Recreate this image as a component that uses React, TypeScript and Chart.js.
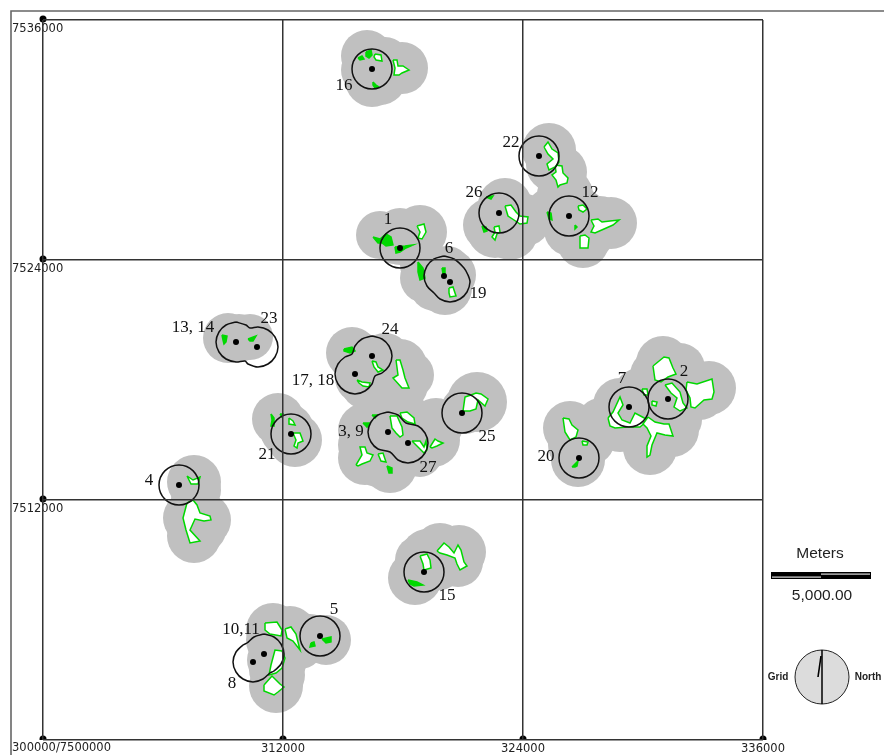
import React, { useEffect, useRef } from "react";
import { Chart, registerables } from "chart.js";

Chart.register(...registerables);

const eastTicks = [300000, 312000, 324000, 336000];
const northTicks = [7500000, 7512000, 7524000, 7536000];
const metresPerPixel = 50;

// Activity centres (black dots)
const centreEast = [316450, 324800, 322800, 326300, 317850, 320050, 320350, 309650, 310700, 316450, 315600, 312400, 317250, 318250, 320950, 329300, 331250, 326800, 306800, 311050, 310500, 313850, 319050];
const centreNorth = [7533550, 7529200, 7526350, 7526200, 7524600, 7523200, 7522900, 7519900, 7519650, 7519200, 7518300, 7515300, 7515400, 7514850, 7516350, 7516650, 7517050, 7514100, 7512750, 7504300, 7503900, 7505200, 7508400];

// Single 1000 m rings
const ringEast = [316450, 324800, 322800, 326300, 317850, 312400, 320950, 329300, 331250, 326800, 306800, 313850, 319050];
const ringNorth = [7533550, 7529200, 7526350, 7526200, 7524600, 7515300, 7516350, 7516650, 7517050, 7514100, 7512750, 7505200, 7508400];

// Site labels
const siteLabels = ["16", "22", "26", "12", "1", "6", "19", "13, 14", "23", "24", "17, 18", "21", "3, 9", "27", "25", "7", "2", "20", "4", "10,11", "8", "5", "15"];
const labelEast = [315050, 323400, 321550, 327350, 317250, 320300, 321750, 307500, 311300, 317350, 313500, 311200, 315400, 319250, 322200, 328950, 332050, 325150, 305300, 309900, 309450, 314550, 320200];
const labelNorth = [7532700, 7529850, 7527350, 7527350, 7526000, 7524550, 7522300, 7520600, 7521050, 7520500, 7517950, 7514250, 7515400, 7513600, 7515150, 7518050, 7518400, 7514150, 7512950, 7505500, 7502800, 7506500, 7507200];

// Grey buffer discs
const bufferEast = [316200, 317950, 316450, 325300, 325850, 326100, 325350, 323100, 322350, 323350, 324100, 328400, 327000, 326850, 316850, 318850, 317850, 320100, 319100, 320200, 311750, 312600, 309250, 310350, 315450, 317850, 317950, 316350, 316100, 316100, 317100, 318100, 317350, 319650, 319100, 316600, 318350, 321700, 331000, 333300, 332350, 330350, 328850, 330350, 331450, 330850, 328850, 326350, 326750, 327350, 327850, 307550, 307350, 308050, 307550, 311500, 312350, 314150, 312850, 311650, 311850, 311450, 320800, 319850, 318600, 318850, 320200,
  317250, 316450, 317850, 319100, 312200, 309800, 316500, 315850, 317600, 316250, 316750, 319500, 317850, 329850, 329850, 331850, 332850, 330600, 331850, 326600, 307500, 313350, 311650, 319350, 322850, 327600, 326350, 325500,
  317100, 316850, 316100, 322600, 327850, 327350, 317600, 319600, 320350, 317100, 318350, 317100, 316100, 316100, 318850, 321100, 330350, 331100, 331850, 308050, 307650, 311600, 311750, 319200, 320750, 319850];
const bufferNorth = [7534200, 7533600, 7533000, 7529500, 7528400, 7527250, 7526400, 7526750, 7525750, 7525400, 7526000, 7525850, 7524900, 7526250, 7525250, 7525400, 7525000, 7522600, 7523750, 7523500, 7516050, 7515000, 7520100, 7520150, 7519350, 7518700, 7517750, 7518100, 7517750, 7514100, 7515750, 7516000, 7513700, 7515750, 7515000, 7515500, 7514750, 7516900, 7518850, 7517600, 7517750, 7517500, 7516750, 7514600, 7515500, 7516000, 7515750, 7515600, 7514000, 7515000, 7516000, 7512900, 7511100, 7511000, 7510200, 7505500, 7505400, 7505000, 7504750, 7502700, 7504000, 7504000, 7509400, 7509500, 7508100, 7509000, 7508750,
  7533500, 7533750, 7525400, 7523100, 7515500, 7520100, 7519150, 7518100, 7516750, 7515400, 7514000, 7515000, 7514250, 7515500, 7517250, 7517000, 7517250, 7518250, 7518600, 7514750, 7512000, 7505100, 7503500, 7508750, 7525750, 7525750, 7525500, 7528750,
  7533900, 7533100, 7533500, 7525500, 7525900, 7525250, 7525100, 7522750, 7523250, 7519000, 7518250, 7517250, 7515500, 7514750, 7514250, 7516500, 7515500, 7518500, 7516000, 7510500, 7512500, 7505000, 7503250, 7509250, 7508900, 7508500];
const bufferRadius = [1300, 1300, 1350, 1350, 1350, 1400, 1200, 1350, 1350, 1400, 1300, 1300, 1300, 1350, 1200, 1350, 1250, 1350, 1250, 1200, 1300, 1350, 1250, 1150, 1300, 1350, 1300, 1300, 1200, 1350, 1350, 1350, 1350, 1350, 1350, 1350, 1250, 1500, 1350, 1350, 1350, 1350, 1350, 1350, 1350, 1350, 1350, 1350, 1350, 1250, 1100, 1350, 1350, 1350, 1350, 1350, 1300, 1250, 1200, 1350, 1350, 1250, 1350, 1350, 1350, 1250, 1100,
  1250, 1350, 1200, 1250, 1350, 1200, 1100, 1250, 1350, 1350, 1350, 1350, 1250, 1350, 1350, 1350, 1250, 1250, 1250, 1350, 1100, 1200, 1350, 1350, 1500, 1250, 1300, 1350,
  1250, 1350, 1200, 1400, 1300, 1200, 1300, 1300, 1300, 1350, 1200, 1500, 1350, 1350, 1100, 1200, 1350, 1350, 1100, 1100, 1250, 1450, 1350, 1300, 1250, 1000];

// Forest patches drawn with a white interior: east, north, east, north...
const openPatches = [
  [316600, 7534300, 316900, 7534250, 316950, 7533950, 316650, 7534000, 316550, 7534150],
  [317500, 7534000, 317700, 7534000, 317750, 7533700, 318000, 7533700, 318300, 7533500, 317950, 7533350, 317800, 7533250, 317550, 7533250, 317600, 7533600],
  [325050, 7529650, 325250, 7529900, 325450, 7529550, 325750, 7529350, 325800, 7528900, 325600, 7528650, 325300, 7528500, 325200, 7528800, 325500, 7529050, 325250, 7529300],
  [325600, 7528750, 325950, 7528700, 326000, 7528350, 326250, 7528100, 326200, 7527850, 325850, 7527750, 325750, 7527650, 325650, 7528000, 325450, 7528250, 325650, 7528400],
  [323100, 7526700, 323400, 7526750, 323650, 7526400, 323850, 7526200, 324250, 7526150, 324200, 7525850, 323850, 7525800, 323550, 7526000, 323250, 7526200],
  [322550, 7525650, 322800, 7525700, 322850, 7525400, 322700, 7525300, 322600, 7525000, 322450, 7525150, 322600, 7525400],
  [326750, 7526700, 327000, 7526750, 327200, 7526550, 327000, 7526400, 326800, 7526500],
  [327400, 7526000, 327750, 7526050, 327950, 7525900, 328350, 7525950, 328800, 7526000, 328500, 7525750, 328050, 7525550, 327600, 7525350, 327400, 7525400, 327550, 7525700],
  [326850, 7525200, 327100, 7525250, 327300, 7525100, 327250, 7524600, 326850, 7524600],
  [318700, 7525700, 319050, 7525800, 319150, 7525400, 318950, 7525050, 318750, 7525100, 318850, 7525400],
  [320300, 7522600, 320500, 7522650, 320650, 7522200, 320350, 7522150, 320300, 7522350],
  [316450, 7518950, 316650, 7518900, 316750, 7518650, 317000, 7518500, 316750, 7518400, 316550, 7518650],
  [315700, 7518000, 315950, 7517900, 316350, 7517850, 316300, 7517650, 316000, 7517700, 315800, 7517850],
  [317650, 7519000, 317850, 7519000, 318000, 7518500, 318100, 7518100, 318300, 7517600, 317950, 7517600, 317500, 7518100, 317750, 7518250],
  [312300, 7516100, 312500, 7515950, 312600, 7515750, 312300, 7515800],
  [312500, 7515350, 312850, 7515350, 313000, 7514950, 312750, 7514850, 312700, 7514600, 312550, 7514700, 312650, 7515000],
  [317350, 7516200, 317700, 7516200, 317950, 7515650, 318000, 7515250, 317850, 7515150, 317650, 7515350, 317450, 7515600],
  [317850, 7516350, 318200, 7516400, 318550, 7516100, 318600, 7515800, 318250, 7515900, 317950, 7516100],
  [318450, 7514950, 318850, 7514950, 319050, 7514650, 319150, 7514950, 319200, 7514500, 319050, 7514350, 318850, 7514550],
  [319350, 7514650, 319600, 7515050, 319750, 7514950, 320000, 7514850, 319700, 7514700, 319450, 7514600],
  [315650, 7513750, 315950, 7514250, 315850, 7514650, 316100, 7514650, 316200, 7514350, 316500, 7514250, 316350, 7513950, 315950, 7513800, 315750, 7513700],
  [316750, 7514300, 317000, 7514350, 317150, 7513900, 316900, 7513950],
  [321000, 7516450, 321100, 7517150, 321400, 7517250, 321650, 7517350, 321900, 7517300, 322250, 7517050, 322100, 7516700, 321750, 7517000, 321650, 7516550, 321350, 7516450],
  [330500, 7518700, 331050, 7519150, 331300, 7519100, 331500, 7518600, 331650, 7518300, 331250, 7518150, 330900, 7517900, 330600, 7518000],
  [332200, 7517900, 332700, 7517800, 333450, 7518050, 333550, 7517400, 333450, 7517050, 333050, 7517000, 332600, 7516600, 332400, 7516650, 332350, 7517100, 332150, 7517500],
  [331100, 7517750, 331450, 7517850, 331850, 7517400, 332000, 7516850, 332200, 7516600, 331850, 7516450, 331550, 7516650, 331700, 7517100, 331400, 7517350],
  [330250, 7516150, 330600, 7515900, 331050, 7515800, 331300, 7515800, 331500, 7515200, 331100, 7515250, 330700, 7515350, 330450, 7514750, 330350, 7514250, 330200, 7514150, 330200, 7514700, 330400, 7515200, 330200, 7515600, 330000, 7515800],
  [328250, 7516100, 328500, 7516400, 328850, 7517150, 329000, 7516750, 328750, 7516350, 328950, 7516000, 329350, 7515850, 329600, 7516350, 330250, 7516000, 329850, 7515650, 329250, 7515650, 328600, 7515600, 328350, 7515700],
  [329950, 7517550, 330200, 7517550, 330250, 7517250, 330050, 7517250],
  [330450, 7516950, 330700, 7516900, 330650, 7516700, 330450, 7516750],
  [326000, 7516100, 326300, 7516050, 326450, 7515750, 326750, 7515500, 326650, 7515150, 326350, 7515000, 326100, 7515400],
  [326950, 7514950, 327250, 7514900, 327200, 7514750, 327000, 7514750],
  [307200, 7513200, 307500, 7513000, 307850, 7513150, 307750, 7512800, 307400, 7512800],
  [307200, 7511850, 307500, 7512000, 307700, 7511750, 307850, 7511350, 308350, 7511200, 308400, 7511000, 308050, 7510950, 307600, 7511050, 307350, 7510500, 307850, 7509950, 307350, 7509850, 307150, 7510500, 307000, 7511100],
  [311100, 7505850, 311700, 7505900, 311950, 7505500, 311900, 7505200, 311350, 7505300, 311100, 7505500],
  [311400, 7503750, 311600, 7504500, 311950, 7504450, 312100, 7504100, 311950, 7503600, 311650, 7503350, 311300, 7503250],
  [311050, 7502750, 311450, 7503200, 311850, 7502800, 312050, 7502650, 311750, 7502400, 311550, 7502250, 311050, 7502450],
  [312100, 7505550, 312400, 7505650, 312650, 7505300, 312850, 7504500, 312500, 7504950, 312200, 7505100],
  [319700, 7509450, 320050, 7509850, 320300, 7509650, 320550, 7509350, 320750, 7509750, 320900, 7509500, 321050, 7508900, 321200, 7508700, 320850, 7508500, 320700, 7508800, 320600, 7509100, 320200, 7509250, 319850, 7509350],
  [318850, 7509200, 319200, 7509300, 319350, 7509000, 319400, 7508600, 319050, 7508500, 319000, 7508800],
];

// Small forest patches that read as solid green
const solidPatches = [
  [316150, 7534400, 316400, 7534500, 316450, 7534250, 316300, 7534100, 316150, 7534200],
  [315750, 7534100, 315950, 7534200, 316050, 7534050, 315850, 7534000],
  [316500, 7532900, 316650, 7532750, 316800, 7532650, 316600, 7532600, 316500, 7532750],
  [321950, 7525700, 322150, 7525650, 322200, 7525450, 322050, 7525400],
  [322150, 7527150, 322500, 7527200, 322400, 7527050],
  [325200, 7526400, 325400, 7526350, 325450, 7526000, 325300, 7526050],
  [326600, 7525750, 326700, 7525650, 326600, 7525550],
  [316500, 7525150, 316850, 7525050, 317150, 7525300, 317400, 7525150, 317500, 7524750, 317150, 7524700, 316950, 7524850, 316750, 7524850],
  [317600, 7524650, 318100, 7524700, 318500, 7524750, 318150, 7524600, 317850, 7524400, 317650, 7524350],
  [318750, 7523900, 319000, 7523600, 319100, 7523100, 318850, 7523000, 318750, 7523400],
  [319950, 7523600, 320100, 7523600, 320100, 7523300, 320000, 7523300],
  [308950, 7520250, 309200, 7520200, 309150, 7519900, 309050, 7519800, 309000, 7520000],
  [310250, 7520050, 310650, 7520200, 310500, 7519950, 310350, 7519950],
  [315050, 7519550, 315450, 7519650, 315600, 7519450, 315350, 7519350, 315050, 7519450],
  [311400, 7516300, 311550, 7516100, 311550, 7515700, 311400, 7515700, 311450, 7516000],
  [311850, 7516300, 312000, 7516300, 311950, 7516150],
  [316000, 7515850, 316350, 7515850, 316200, 7515650],
  [316450, 7516250, 316700, 7516250, 316600, 7516100],
  [317200, 7513700, 317450, 7513600, 317450, 7513350, 317300, 7513350],
  [326450, 7513650, 326750, 7513950, 326700, 7513700, 326600, 7513650],
  [313400, 7504850, 313550, 7504900, 313600, 7504700, 313350, 7504650],
  [313950, 7505050, 314400, 7505150, 314400, 7504900, 314150, 7504850],
  [318250, 7508000, 318700, 7507900, 319000, 7507750, 318550, 7507700, 318350, 7507800],
];

// Dissolved outlines where two rings overlap
const mergedRings = [
  [309650, 7520900, 310150, 7520750, 310350, 7520600, 310750, 7520650, 311250, 7520500, 311600, 7520150, 311750, 7519650, 311600, 7519150, 311250, 7518800, 310750, 7518650, 310250, 7518800, 310100, 7518950, 309650, 7518900, 309150, 7519050, 308800, 7519400, 308650, 7519900, 308800, 7520400, 309150, 7520750],
  [316450, 7520200, 316950, 7520050, 317300, 7519700, 317450, 7519200, 317300, 7518700, 316950, 7518350, 316600, 7518200, 316450, 7517800, 316100, 7517450, 315600, 7517300, 315100, 7517450, 314750, 7517800, 314600, 7518300, 314750, 7518800, 315100, 7519150, 315450, 7519300, 315600, 7519700, 315950, 7520050],
  [317250, 7516400, 317750, 7516250, 318150, 7515850, 318750, 7515700, 319100, 7515350, 319250, 7514850, 319100, 7514350, 318750, 7514000, 318250, 7513850, 317750, 7514000, 317350, 7514400, 316750, 7514550, 316400, 7514900, 316250, 7515400, 316400, 7515900, 316750, 7516250],
  [320050, 7524200, 320550, 7524050, 321050, 7523600, 321250, 7523250, 321350, 7522900, 321200, 7522400, 320850, 7522050, 320350, 7521900, 319850, 7522050, 319550, 7522350, 319200, 7522700, 319050, 7523200, 319200, 7523700, 319550, 7524050],
  [311050, 7505300, 311550, 7505150, 311900, 7504800, 312050, 7504300, 311900, 7503800, 311550, 7503450, 311350, 7503350, 311000, 7503050, 310500, 7502900, 310000, 7503050, 309650, 7503400, 309500, 7503900, 309650, 7504400, 310000, 7504750, 310200, 7504850, 310550, 7505150],
];

// Neatline
const frameEast = [342050, 298400, 298400];
const frameNorth = [7536450, 7536450, 7499250];

// Graticule knobs
const knobEast = [300000, 300000, 300000];
const knobNorth = [7536050, 7524050, 7512050];
const footKnobEast = [300000, 312000, 324000, 336000];
const footKnobNorth = [7500050, 7500050, 7500050, 7500050];

// Map furniture
const scaleBarEast = [336400, 338900, 341400];
const scaleBarNorth = 7508225;
const scaleTitle = "Meters";
const scaleValue = "5,000.00";
const compassEast = 338950;
const compassNorth = 7503150;
const compassRadius = 1350;

const toPoints = (flat: number[]) => {
  const pts: { x: number; y: number }[] = [];
  for (let i = 0; i < flat.length; i += 2) pts.push({ x: flat[i], y: flat[i + 1] });
  pts.push({ x: flat[0], y: flat[1] });
  return pts;
};
const zip = (xs: number[], ys: number[]) => xs.map((x, i) => ({ x, y: ys[i] }));

const GREEN = "#00D800";
const INK = "#111111";

const furniture = {
  id: "mapFurniture",
  afterDatasetsDraw(chart: any) {
    const { ctx, scales } = chart;
    const X = (v: number) => scales.x.getPixelForValue(v);
    const Y = (v: number) => scales.y.getPixelForValue(v);
    const px = (m: number) => m / metresPerPixel;
    ctx.save();
    ctx.textAlign = "center";
    ctx.textBaseline = "middle";

    // site labels
    ctx.fillStyle = "#111";
    ctx.font = '17px "Liberation Serif"';
    siteLabels.forEach((t, i) => ctx.fillText(t, X(labelEast[i]), Y(labelNorth[i])));

    // first axis label
    ctx.font = '11.5px "DejaVu Sans"';
    ctx.fillStyle = "#222";
    ctx.textAlign = "left";
    ctx.textBaseline = "top";
    ctx.fillText(`${eastTicks[0]}/${northTicks[0]}`, X(298450), Y(7500000) + 2);

    // scale bar
    const yb = Y(scaleBarNorth);
    const [a, m, b] = scaleBarEast.map(X);
    ctx.fillStyle = "#000";
    ctx.fillRect(a, yb - 3.5, b - a, 7);
    ctx.fillStyle = "#ddd";
    ctx.fillRect(a + 1, yb + 1, m - a - 1, 1.2);
    ctx.fillRect(m, yb - 2, b - m - 1, 1.2);
    ctx.fillStyle = "#222";
    ctx.textAlign = "center";
    ctx.textBaseline = "middle";
    ctx.font = '15.5px "Liberation Sans"';
    ctx.fillText(scaleTitle, X(338850), Y(7509300));
    ctx.fillText(scaleValue, X(338950), Y(7507200));

    // north compass
    const cx = X(compassEast);
    const cy = Y(compassNorth);
    const r = px(compassRadius);
    ctx.beginPath();
    ctx.arc(cx, cy, r, 0, Math.PI * 2);
    ctx.fillStyle = "#DCDCDC";
    ctx.fill();
    ctx.lineWidth = 1;
    ctx.strokeStyle = "#222";
    ctx.stroke();
    ctx.beginPath();
    ctx.moveTo(cx, cy - r);
    ctx.lineTo(cx, cy + r);
    ctx.lineWidth = 1.5;
    ctx.strokeStyle = "#000";
    ctx.stroke();
    ctx.beginPath();
    ctx.moveTo(X(338900), Y(7504200));
    ctx.lineTo(X(338750), Y(7503150));
    ctx.lineWidth = 1.6;
    ctx.stroke();
    ctx.fillStyle = "#222";
    ctx.font = 'bold 10px "Liberation Sans"';
    ctx.fillText("Grid", X(336750), cy);
    ctx.fillText("North", X(341250), cy);
    ctx.restore();
  },
};

export default function App() {
  const ref = useRef<HTMLCanvasElement | null>(null);
  useEffect(() => {
    document.body.style.margin = "0";
    if (!ref.current) return;
    const patchSet = (flat: number[], i: number, solid: boolean) => ({
      label: `${solid ? "solid" : "open"} patch ${i + 1}`,
      data: toPoints(flat),
      showLine: true,
      fill: "shape",
      backgroundColor: solid ? GREEN : "#FFFFFF",
      borderColor: GREEN,
      borderWidth: 1.5,
      pointRadius: 0,
      tension: 0,
      order: 40,
    });
    const chart = new Chart(ref.current, {
      type: "scatter",
      plugins: [furniture],
      data: {
        datasets: [
          {
            label: "centres",
            data: zip(centreEast, centreNorth),
            pointRadius: 3,
            pointBackgroundColor: "#000",
            pointBorderWidth: 0,
            order: 1,
          },
          {
            label: "upper knobs",
            data: zip(knobEast, knobNorth),
            pointRadius: 3.5,
            pointBackgroundColor: "#000",
            pointBorderWidth: 0,
            clip: false,
            order: 1,
          },
          {
            label: "foot knobs",
            data: zip(footKnobEast, footKnobNorth),
            pointRadius: 3.5,
            pointBackgroundColor: "#000",
            pointBorderWidth: 0,
            clip: { left: 6, right: 6, top: 0, bottom: 0 },
            order: 1,
          },
          {
            label: "rings",
            data: zip(ringEast, ringNorth),
            pointRadius: 20,
            pointBackgroundColor: "rgba(0,0,0,0)",
            pointBorderColor: INK,
            pointBorderWidth: 1.5,
            order: 10,
          },
          ...mergedRings.map((flat, i) => ({
            label: `merged ring ${i + 1}`,
            data: toPoints(flat),
            showLine: true,
            borderColor: INK,
            borderWidth: 1.5,
            pointRadius: 0,
            tension: 0.3,
            order: 10,
          })),
          ...openPatches.map((flat, i) => patchSet(flat, i, false)),
          ...solidPatches.map((flat, i) => patchSet(flat, i, true)),
          {
            label: "buffers",
            data: zip(bufferEast, bufferNorth),
            pointRadius: bufferRadius.map((r) => r / metresPerPixel),
            pointBackgroundColor: "#C0C0C0",
            pointBorderWidth: 0,
            order: 60,
          },
          {
            label: "neatline",
            data: zip(frameEast, frameNorth),
            showLine: true,
            borderColor: "#666",
            borderWidth: 1.6,
            pointRadius: 0,
            clip: false,
            order: 70,
          },
        ],
      } as any,
      options: {
        responsive: false,
        animation: false,
        events: [],
        layout: { autoPadding: false, padding: { left: 43, right: 121, top: 20, bottom: 0 } },
        plugins: { legend: { display: false }, tooltip: { enabled: false }, title: { display: false } },
        scales: {
          x: {
            type: "linear",
            min: eastTicks[0],
            max: eastTicks[3],
            afterBuildTicks: (s: any) => {
              s.ticks = eastTicks.map((value) => ({ value }));
            },
            afterFit: (s: any) => {
              s.height = 15;
              s.paddingLeft = 0;
              s.paddingRight = 0;
              s.paddingTop = 0;
              s.paddingBottom = 0;
            },
            grid: { color: "#333", lineWidth: 1.5, drawTicks: false, z: 1 },
            border: { display: false },
            ticks: {
              autoSkip: false,
              maxRotation: 0,
              padding: 2,
              color: "#222",
              font: { family: "DejaVu Sans", size: 11.5 },
              callback: (v: any) => (v === eastTicks[0] ? "" : String(v)),
            },
          },
          y: {
            type: "linear",
            min: northTicks[0],
            max: northTicks[3],
            afterBuildTicks: (s: any) => {
              s.ticks = northTicks.map((value) => ({ value }));
            },
            afterFit: (s: any) => {
              s.width = 0;
              s.paddingLeft = 0;
              s.paddingRight = 0;
              s.paddingTop = 0;
              s.paddingBottom = 0;
            },
            grid: { color: "#333", lineWidth: 1.5, drawTicks: false, z: 1 },
            border: { display: false },
            ticks: {
              autoSkip: false,
              mirror: true,
              padding: -31,
              labelOffset: 9,
              color: "#222",
              font: { family: "DejaVu Sans", size: 11.5 },
              callback: (v: any) => (v === northTicks[0] ? "" : String(v)),
            },
          },
        },
      } as any,
    });
    return () => chart.destroy();
  }, []);
  return (
    <canvas
      ref={ref}
      width={884}
      height={755}
      style={{ display: "block", width: 884, height: 755, filter: "blur(0.35px)" }}
    />
  );
}
